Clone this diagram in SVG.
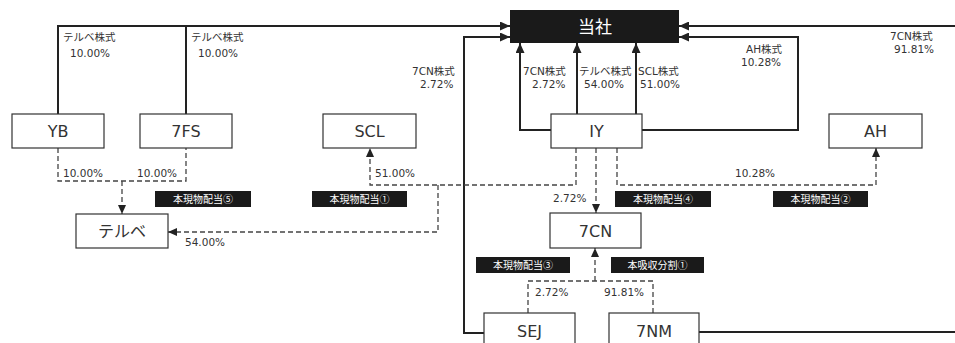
<svg xmlns="http://www.w3.org/2000/svg" width="955" height="343" viewBox="0 0 955 343">
<style>
.bg{fill:#fff}
.box{fill:#fff;stroke:#333;stroke-width:1.2}
.nt{font-family:"DejaVu Sans","Noto Sans CJK JP",sans-serif;font-size:16px;fill:#333;text-anchor:middle}
.lb{font-family:"DejaVu Sans","Noto Sans CJK JP",sans-serif;font-size:10.5px;fill:#333}
.tag{fill:#1a1a1a}
.tt{font-family:"Noto Sans CJK JP",sans-serif;font-size:10px;fill:#fff;text-anchor:middle}
.sl{fill:none;stroke:#222;stroke-width:2}
.dl{fill:none;stroke:#444;stroke-width:1.3;stroke-dasharray:5,3}
</style>
<defs>
<marker id="a" markerUnits="userSpaceOnUse" markerWidth="10" markerHeight="9" refX="10" refY="4.5" orient="auto"><path d="M0,0 L10,4.5 L0,9 z" fill="#222"/></marker>
<marker id="d" markerUnits="userSpaceOnUse" markerWidth="9" markerHeight="8" refX="9" refY="4" orient="auto"><path d="M0,0 L9,4 L0,8 z" fill="#222"/></marker>
</defs>
<rect class="bg" width="955" height="343"/>
<g id="connectors">
<path class="sl" d="M58,114 V26 H510" marker-end="url(#a)"/>
<path class="sl" d="M186,114 V26"/>
<path class="sl" d="M484,333 H464 V37 H510" marker-end="url(#a)"/>
<path class="sl" d="M551,130 H520 V43" marker-end="url(#a)"/>
<path class="sl" d="M577,114 V43" marker-end="url(#a)"/>
<path class="sl" d="M636,114 V43" marker-end="url(#a)"/>
<path class="sl" d="M642,130 H798 V37 H679" marker-end="url(#a)"/>
<path class="sl" d="M699,332 H955"/>
<path class="sl" d="M955,26 H679" marker-end="url(#a)"/>
<path class="dl" d="M58,148 V181 H186 V148"/>
<path class="dl" d="M122,181 V214" marker-end="url(#d)"/>
<path class="dl" d="M576,148 V185 H370 V148" marker-end="url(#d)"/>
<path class="dl" d="M438,185 V232 H168" marker-end="url(#d)"/>
<path class="dl" d="M596,148 V213" marker-end="url(#d)"/>
<path class="dl" d="M617,148 V185 H876 V148" marker-end="url(#d)"/>
<path class="dl" d="M528,313 V281 H653 V313"/>
<path class="dl" d="M595,281 V248" marker-end="url(#d)"/>
</g>
<g id="labels">
<text class="lb" x="63" y="41">テルベ株式</text>
<text class="lb" x="70" y="57">10.00%</text>
<text class="lb" x="191" y="41">テルベ株式</text>
<text class="lb" x="198" y="57">10.00%</text>
<text class="lb" x="412" y="75">7CN株式</text>
<text class="lb" x="420" y="88">2.72%</text>
<text class="lb" x="523" y="75">7CN株式</text>
<text class="lb" x="532" y="88">2.72%</text>
<text class="lb" x="579" y="75">テルベ株式</text>
<text class="lb" x="584" y="88">54.00%</text>
<text class="lb" x="638" y="75">SCL株式</text>
<text class="lb" x="640" y="88">51.00%</text>
<text class="lb" x="746" y="53">AH株式</text>
<text class="lb" x="741" y="66">10.28%</text>
<text class="lb" x="890" y="40">7CN株式</text>
<text class="lb" x="894" y="53">91.81%</text>
<text class="lb" x="63" y="177">10.00%</text>
<text class="lb" x="137" y="177">10.00%</text>
<text class="lb" x="375" y="177">51.00%</text>
<text class="lb" x="735" y="177">10.28%</text>
<text class="lb" x="553" y="202">2.72%</text>
<text class="lb" x="185" y="246">54.00%</text>
<text class="lb" x="535" y="296">2.72%</text>
<text class="lb" x="604" y="296">91.81%</text>
</g>
<g id="tags">
<rect class="tag" x="155" y="191" width="96" height="16"/><text class="tt" x="203" y="203">本現物配当⑤</text>
<rect class="tag" x="312" y="191" width="95" height="16"/><text class="tt" x="359.5" y="203">本現物配当①</text>
<rect class="tag" x="615" y="191" width="96" height="16"/><text class="tt" x="663" y="203">本現物配当④</text>
<rect class="tag" x="773" y="191" width="95" height="16"/><text class="tt" x="820.5" y="203">本現物配当②</text>
<rect class="tag" x="476" y="257" width="94" height="16"/><text class="tt" x="523" y="269">本現物配当③</text>
<rect class="tag" x="611" y="257" width="93" height="16"/><text class="tt" x="657.5" y="269">本吸収分割①</text>
</g>
<g id="toushya"><rect x="510" y="10" width="169" height="33" fill="#1a1a1a"/><text class="nt" x="595" y="33" style="fill:#fff;font-size:17px">当社</text></g>
<g id="YB"><rect class="box" x="12" y="114" width="92" height="34"/><text class="nt" x="58" y="137">YB</text></g>
<g id="n7FS"><rect class="box" x="140" y="114" width="92" height="34"/><text class="nt" x="186" y="137">7FS</text></g>
<g id="SCL"><rect class="box" x="323" y="114" width="93" height="34"/><text class="nt" x="369.5" y="137">SCL</text></g>
<g id="IY"><rect class="box" x="551" y="114" width="91" height="34"/><text class="nt" x="596.5" y="137">IY</text></g>
<g id="AH"><rect class="box" x="829" y="114" width="93" height="34"/><text class="nt" x="875.5" y="137">AH</text></g>
<g id="terube"><rect class="box" x="76" y="214" width="92" height="34"/><text class="nt" x="122" y="237">テルベ</text></g>
<g id="n7CN"><rect class="box" x="550" y="213" width="91" height="35"/><text class="nt" x="595.5" y="237">7CN</text></g>
<g id="SEJ"><rect class="box" x="484" y="313" width="91" height="40"/><text class="nt" x="529.5" y="337">SEJ</text></g>
<g id="n7NM"><rect class="box" x="609" y="313" width="90" height="40"/><text class="nt" x="654" y="337">7NM</text></g>
</svg>
